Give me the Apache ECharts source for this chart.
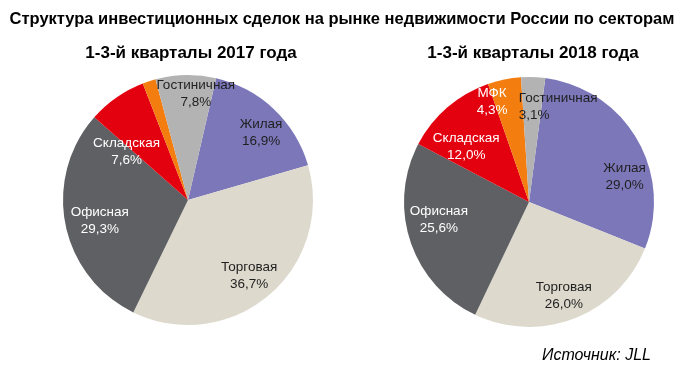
<!DOCTYPE html>
<html>
<head>
<meta charset="utf-8">
<script src="https://cdn.jsdelivr.net/npm/echarts@6/dist/echarts.min.js"></script>
<style>
html,body{margin:0;padding:0;background:#fff;}
#c{width:680px;height:367px;}
</style>
</head>
<body>
<div id="c"></div>
<script>
// ---- data ----
const categories = ['Жилая', 'Торговая', 'Офисная', 'Складская', 'МФК', 'Гостиничная'];
const values2017 = [16.9, 36.7, 29.3, 7.6, 1.7, 7.8];
const values2018 = [29.0, 26.0, 25.6, 12.0, 4.3, 3.1];
const titleText = 'Структура инвестиционных сделок на рынке недвижимости России по секторам';
const subtitle2017 = '1-3-й кварталы 2017 года';
const subtitle2018 = '1-3-й кварталы 2018 года';
const sourceText = 'Источник: JLL';

// ---- styles ----
const FONT = 'Liberation Sans, Arial, sans-serif';
const colors = ['#7B77B9', '#DDD9CD', '#5F6063', '#E3000F', '#F47D0F', '#B3B3B3'];
const labelColors = ['#1f1f1f', '#1f1f1f', '#ffffff', '#ffffff', '#ffffff', '#1f1f1f'];
const offsets2017 = [[28, -20], [19, 26], [-24, 8], [-24, 6], [-19, -29], [9, -41]];
const offsets2018 = [[39, 8], [11, 33], [-28, -3], [-20, -6], [-24, -36], [27, -30]];
const leftSecondLine2018 = [false, false, false, false, false, true];

const fmt = v => v.toFixed(1).replace('.', ',') + '%';

function buildData(values, offsets, leftSecond) {
  return categories.map((name, i) => {
    const left = leftSecond && leftSecond[i];
    const baseRich = { fontSize: 13.5, lineHeight: 17, color: labelColors[i], fontFamily: FONT };
    return {
      name: name,
      value: values[i],
      itemStyle: { color: colors[i] },
      label: {
        color: labelColors[i],
        offset: offsets[i],
        formatter: '{n|' + name + '}\n{' + (left ? 'l' : 'n') + '|' + fmt(values[i]) + '}',
        rich: {
          n: Object.assign({}, baseRich),
          l: Object.assign({ align: 'left' }, baseRich)
        }
      }
    };
  });
}

function pieSeries(center, startAngle, data) {
  return {
    type: 'pie',
    center: center,
    radius: [0, 125],
    startAngle: startAngle,
    clockwise: true,
    avoidLabelOverlap: false,
    silent: true,
    itemStyle: { borderWidth: 0 },
    label: { show: true, position: 'inside', fontSize: 13.5, lineHeight: 17, fontFamily: FONT },
    labelLine: { show: false },
    emphasis: { disabled: true },
    data: data
  };
}

const chart = echarts.init(document.getElementById('c'), null, { renderer: 'canvas' });
chart.setOption({
  animation: false,
  backgroundColor: '#ffffff',
  title: [
    { text: titleText, left: 337, top: 6, textAlign: 'center',
      textStyle: { fontSize: 16.5, fontWeight: 'bold', color: '#000', fontFamily: FONT } },
    { text: subtitle2017, left: 186, top: 40, textAlign: 'center',
      textStyle: { fontSize: 17, fontWeight: 'bold', color: '#000', fontFamily: FONT } },
    { text: subtitle2018, left: 528, top: 40, textAlign: 'center',
      textStyle: { fontSize: 17, fontWeight: 'bold', color: '#000', fontFamily: FONT } },
    { text: sourceText, right: 24, top: 343,
      textStyle: { fontSize: 16, fontWeight: 'normal', fontStyle: 'italic', color: '#000', fontFamily: FONT } }
  ],
  series: [
    pieSeries([188, 200], 77, buildData(values2017, offsets2017, null)),
    pieSeries([529, 202], 82.5, buildData(values2018, offsets2018, leftSecondLine2018))
  ]
});
</script>
</body>
</html>
